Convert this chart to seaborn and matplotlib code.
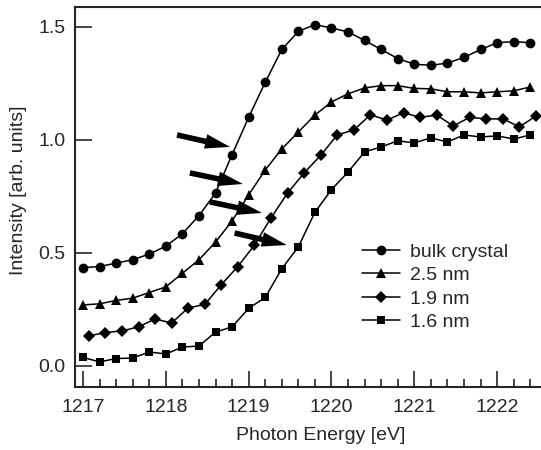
import numpy as np
import pandas as pd
import seaborn as sns
from matplotlib import pyplot as plt
from matplotlib.ticker import MultipleLocator

sns.set_style("ticks")
plt.rcParams["font.family"] = ["Liberation Sans", "DejaVu Sans"]
plt.rcParams["xtick.direction"] = "in"
plt.rcParams["ytick.direction"] = "in"

# photon energy grid (eV); the 1.9 nm series sits slightly offset
energy = [1217.0 + 0.2 * i for i in range(28)]
energy_19 = [1217.07 + 0.2 * i for i in range(28)]

bulk = [0.435, 0.44, 0.455, 0.47, 0.495, 0.53, 0.585, 0.665, 0.765, 0.935,
        1.10, 1.255, 1.40, 1.48, 1.51, 1.495, 1.478, 1.44, 1.40, 1.36,
        1.335, 1.33, 1.34, 1.365, 1.40, 1.43, 1.435, 1.43]
nm25 = [0.27, 0.275, 0.29, 0.30, 0.325, 0.35, 0.41, 0.47, 0.548, 0.642,
        0.757, 0.867, 0.96, 1.035, 1.11, 1.168, 1.204, 1.23, 1.24, 1.24,
        1.228, 1.226, 1.213, 1.213, 1.208, 1.213, 1.217, 1.234]
nm19 = [0.133, 0.148, 0.155, 0.173, 0.208, 0.19, 0.257, 0.272, 0.36, 0.44,
        0.535, 0.655, 0.765, 0.854, 0.932, 1.022, 1.044, 1.111, 1.088, 1.12,
        1.10, 1.11, 1.062, 1.10, 1.093, 1.093, 1.058, 1.106]
nm16 = [0.038, 0.018, 0.033, 0.035, 0.062, 0.053, 0.084, 0.088, 0.15, 0.173,
        0.255, 0.303, 0.43, 0.527, 0.68, 0.78, 0.858, 0.947, 0.969, 0.996,
        0.987, 1.009, 0.991, 1.022, 1.013, 1.018, 1.004, 1.022]

labels = ["bulk crystal", "2.5 nm", "1.9 nm", "1.6 nm"]

# arrows (tail -> head) marking the edge positions
arrow_tail = [(1218.135, 1.022), (1218.29, 0.854), (1218.53, 0.726), (1218.83, 0.588)]
arrow_head = [(1218.775, 0.969), (1218.93, 0.805), (1219.16, 0.677), (1219.46, 0.535)]

fig = plt.figure(figsize=(5.41, 4.5), dpi=100)
ax = fig.add_axes([75 / 541, 1 - 387 / 450, (541 - 75) / 541, 380 / 450])

series = [
    (energy, bulk, labels[0], "o", 7.0),
    (energy, nm25, labels[1], "^", 7.4),
    (energy_19, nm19, labels[2], "D", 5.8),
    (energy, nm16, labels[3], "s", 5.2),
]
for xs, ys, lab, mk, ms in series:
    df = pd.DataFrame({"E": xs, "I": ys})
    sns.lineplot(data=df, x="E", y="I", ax=ax, color="black", lw=1.1,
                 marker=mk, markersize=ms, markeredgewidth=0, label=lab)

for t, h in zip(arrow_tail, arrow_head):
    ax.annotate("", xy=h, xytext=t,
                arrowprops=dict(arrowstyle="simple,head_length=1.8,head_width=1.05,tail_width=0.4",
                                fc="black", ec="black", lw=0, mutation_scale=10,
                                shrinkA=0, shrinkB=0))

ax.set_xlim(1216.903, 1222.53)
ax.set_ylim(-0.093, 1.588)
ax.xaxis.set_major_locator(MultipleLocator(1))
ax.xaxis.set_minor_locator(MultipleLocator(0.2))
ax.set_yticks([0.0, 0.5, 1.0, 1.5])
ax.set_yticklabels(["0.0", "0.5", "1.0", "1.5"])

ax.tick_params(axis="x", which="major", direction="in", length=11.5, width=1.2,
               labelsize=14, pad=9)
ax.tick_params(axis="x", which="minor", direction="in", length=5.8, width=1.2)
ax.tick_params(axis="y", which="major", direction="in", length=12, width=1.2,
               labelsize=14, pad=7)

for s in ["left", "bottom", "top"]:
    ax.spines[s].set_linewidth(1.5)
ax.spines["right"].set_visible(False)

ax.set_xlabel("Photon Energy [eV]", fontsize=14, va="center")
ax.set_ylabel("Intensity [arb. units]", fontsize=14, va="center")
ax.xaxis.set_label_coords((321 - 75) / 466, -(436 - 387) / 380)
ax.yaxis.set_label_coords(-(75 - 19) / 466, (387 - 190) / 380)

ax.legend(frameon=False, fontsize=14, loc="upper left",
          bbox_to_anchor=(362 / 541, 1 - 243 / 450), bbox_transform=fig.transFigure,
          borderpad=0, borderaxespad=0, handlelength=1.95, handletextpad=0.5,
          labelspacing=0.3)

fig.savefig("out.png", dpi=100)
